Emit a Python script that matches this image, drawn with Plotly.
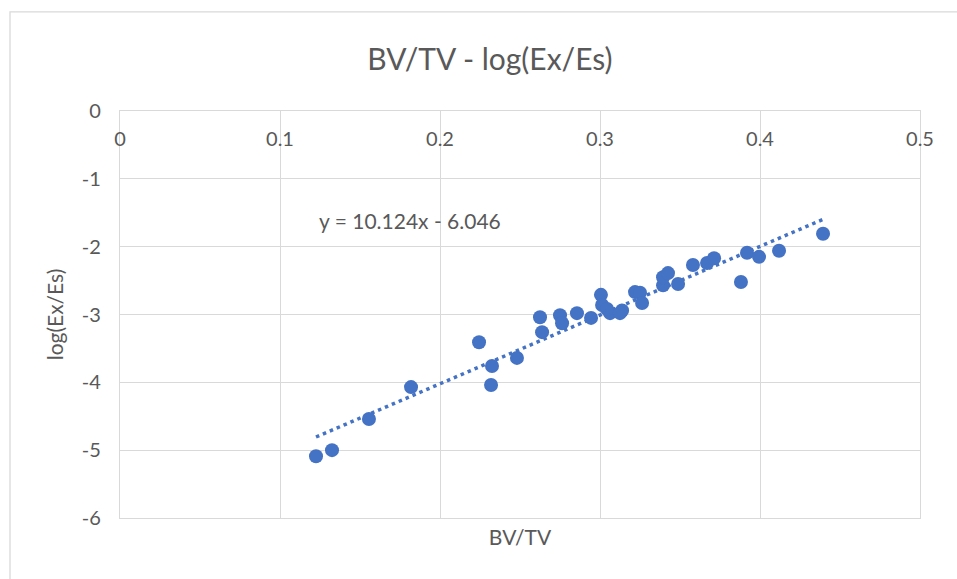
import plotly.graph_objects as go

# Bone volume fraction vs. log modulus ratio
bv_tv = [0.1225, 0.1325, 0.1556, 0.1819, 0.2244, 0.2325, 0.2319, 0.2481,
         0.2625, 0.2638, 0.2750, 0.2763, 0.2856, 0.2944, 0.3006, 0.3013,
         0.3063, 0.3044, 0.3138, 0.3125, 0.3219, 0.3250, 0.3263, 0.3394,
         0.3394, 0.3425, 0.3488, 0.3581, 0.3669, 0.3713, 0.3881, 0.3919,
         0.3994, 0.4119, 0.4394]
log_ex_es = [-5.09, -5.00, -4.54, -4.07, -3.41, -3.76, -4.04, -3.64,
             -3.04, -3.26, -3.01, -3.13, -2.98, -3.05, -2.71, -2.86,
             -2.98, -2.92, -2.94, -2.98, -2.67, -2.68, -2.83, -2.57,
             -2.45, -2.39, -2.55, -2.27, -2.24, -2.17, -2.52, -2.09,
             -2.15, -2.06, -1.81]

# Linear trendline coefficients
slope = 10.124
intercept = -6.046

x_ticks = [0, 0.1, 0.2, 0.3, 0.4, 0.5]
x_tick_text = ["0", "0.1", "0.2", "0.3", "0.4", "0.5"]
y_ticks = [0, -1, -2, -3, -4, -5, -6]
y_tick_text = ["0", "-1", "-2", "-3", "-4", "-5", "-6"]

FONT = "Lato, 'Open Sans', sans-serif"
TEXT = "#595959"
GRID = "#d9d9d9"
BLUE = "#4472C4"

x_fit = [min(bv_tv), max(bv_tv)]
y_fit = [slope * v + intercept for v in x_fit]

fig = go.Figure()
fig.add_trace(go.Scatter(
    x=x_fit, y=y_fit, mode="lines",
    line=dict(color=BLUE, width=3.5, dash="3.5px,4px"),
    hoverinfo="skip", showlegend=False,
))
fig.add_trace(go.Scatter(
    x=bv_tv, y=log_ex_es, mode="markers",
    marker=dict(color=BLUE, size=14, line=dict(width=0)),
    showlegend=False,
))
# Invisible trace on the top axis so its tick labels render
fig.add_trace(go.Scatter(
    x=[0, 0.5], y=[0, 0], xaxis="x2", mode="markers",
    marker=dict(opacity=0), hoverinfo="skip", showlegend=False,
))

sign = "-" if intercept < 0 else "+"
eq_text = f"y = {slope:.3f}x {sign} {abs(intercept):.3f}"

fig.update_layout(
    width=957, height=579,
    margin=dict(l=120, r=37, t=111, b=61),
    paper_bgcolor="white", plot_bgcolor="white",
    font=dict(family=FONT, color=TEXT),
    title=dict(text="BV/TV - log(Ex/Es)", x=0.512, xanchor="center",
               y=0.897, yanchor="middle",
               font=dict(size=30, color=TEXT, family=FONT)),
    xaxis=dict(range=[0, 0.5], tickvals=x_ticks, showticklabels=False,
               showgrid=True, gridcolor=GRID, gridwidth=1.3,
               zeroline=False, showline=True, linecolor=GRID, linewidth=1.3,
               mirror=True, ticks="",
               title=dict(text="BV/TV", standoff=12,
                          font=dict(size=21, color=TEXT, family=FONT))),
    xaxis2=dict(range=[0, 0.5], overlaying="x", side="top", anchor="y",
                tickvals=x_ticks, ticktext=x_tick_text,
                ticklabelposition="inside", ticklabeloverflow="allow",
                ticklabelstandoff=18,
                showgrid=False, zeroline=False,
                showline=False, ticks="",
                tickfont=dict(size=20, color=TEXT, family=FONT)),
    yaxis=dict(range=[-6, 0], tickvals=y_ticks, ticktext=y_tick_text,
               showgrid=True, gridcolor=GRID, gridwidth=1.3,
               zeroline=False, showline=True, linecolor=GRID, linewidth=1.3,
               mirror=True, ticks="", ticklabelstandoff=14,
               ticklabeloverflow="allow",
               tickfont=dict(size=20, color=TEXT, family=FONT),
               title=dict(text="log(Ex/Es)", standoff=12,
                          font=dict(size=21, color=TEXT, family=FONT))),
    annotations=[dict(
        x=0.181, y=-1.61, xref="x", yref="y", text=eq_text,
        showarrow=False, xanchor="center", yanchor="middle",
        font=dict(size=21, color=TEXT, family=FONT),
    )],
    shapes=[dict(
        type="rect", xref="paper", yref="paper",
        x0=-0.1375, x1=1.06, y0=-0.17, y1=1.2434,
        line=dict(color=GRID, width=1.3), fillcolor="rgba(0,0,0,0)",
        layer="below",
    )],
)

fig.write_html("out.html")
